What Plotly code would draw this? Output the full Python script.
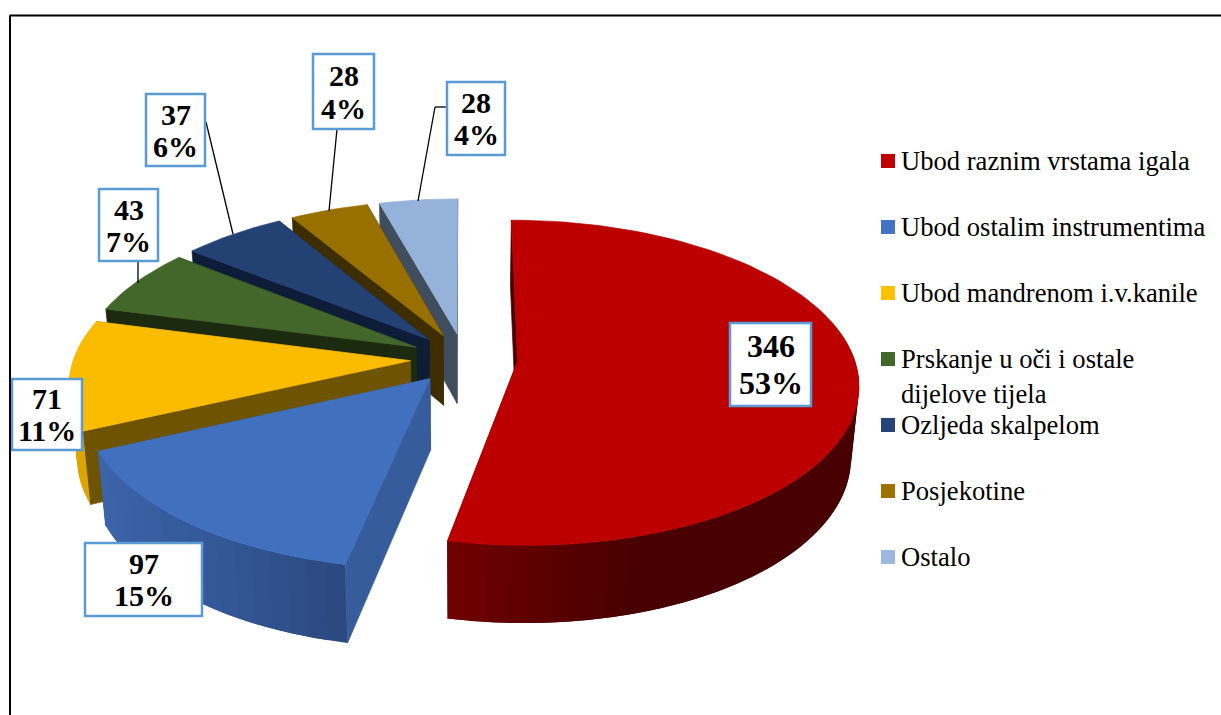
import math
import plotly.graph_objects as go

# ---- data ----
categories = ["Ubod raznim vrstama igala", "Ubod ostalim instrumentima", "Ubod mandrenom i.v.kanile",
              "Prskanje u oči i ostale<br>dijelove tijela", "Ozljeda skalpelom", "Posjekotine", "Ostalo"]
values = [346, 97, 71, 43, 37, 28, 28]
percents = ["53%", "15%", "11%", "7%", "6%", "4%", "4%"]

# ---- styles ----
legend_colors = ["#C00000", "#4472C4", "#FFC000", "#43682B", "#264478", "#9E7000", "#9DB8DE"]
top_colors = ["#BC0000", "#4170BE", "#FBBC00", "#43662A", "#244174", "#987000", "#95B3DA"]
cut_colors = ["#4A0000", "#375C9C", "#6E5400", "#1C2A0F", "#0E1C38", "#3E2D00", "#3F4D5C"]
wall_left = [(112, 0, 0), (60, 100, 170), (219, 164, 0), (28, 42, 15), (14, 28, 56), (62, 45, 0), (63, 77, 92)]
wall_right = [(72, 0, 0), (43, 73, 128), (219, 164, 0), (28, 42, 15), (14, 28, 56), (62, 45, 0), (63, 77, 92)]
FONT = "Liberation Serif"

# ---- projection of the exploded, tilted pie ----
CX, CY, AX, BY = 464.0, 358.5, 336.5, 159.0
PERSP, EXPLODE, THICK, BOTTOM = 0.133, 0.16, 70.5, 0.98


def project(px, pw, bottom=False):
    s = 1.0 / (1.0 - PERSP * pw)
    x = AX * px * s
    y = BY * pw * s
    if bottom:
        return CX + x * BOTTOM, CY + y * BOTTOM + THICK * s
    return CX + x, CY + y


total = sum(values)
angles = []
acc = 0.0
for v in values:
    a0 = acc / total * 360.0
    acc += v
    angles.append((a0, acc / total * 360.0))


def rim(theta, ex, ew):
    t = math.radians(theta)
    return ex + math.sin(t), ew - math.cos(t)


def arc_angles(a0, a1, step=2.0):
    n = max(2, int(math.ceil((a1 - a0) / step)))
    return [a0 + (a1 - a0) * i / n for i in range(n + 1)]


fig = go.Figure()


def poly(points, color, group, width=0.7):
    xs = [p[0] for p in points] + [points[0][0]]
    ys = [p[1] for p in points] + [points[0][1]]
    fig.add_trace(go.Scatter(x=xs, y=ys, mode="lines", fill="toself", fillcolor=color,
                             line=dict(color=color, width=width), hoverinfo="skip",
                             showlegend=False, legendgroup=group))


draw_order = [6, 5, 4, 3, 2, 0, 1]
for i in draw_order:
    a0, a1 = angles[i]
    mid = math.radians((a0 + a1) / 2)
    ex, ew = EXPLODE * math.sin(mid), -EXPLODE * math.cos(mid)
    group = "g%d" % i
    # cut faces
    for a in (a0, a1):
        rx, rw = rim(a, ex, ew)
        poly([project(ex, ew), project(rx, rw), project(rx, rw, True), project(ex, ew, True)], cut_colors[i], group)
    # outer wall, in overlapping strips for the shading
    ths = arc_angles(a0, a1, 3.0)
    xs_all = [project(*rim(t, ex, ew))[0] for t in ths]
    xmin, xmax = min(xs_all), max(xs_all)
    for k in range(len(ths) - 1):
        t0, t1 = ths[k], ths[k + 1]
        if -math.cos(math.radians((t0 + t1) / 2)) < -0.25:
            continue
        sweep = arc_angles(t0, ths[min(k + 2, len(ths) - 1)], 1.0)
        f = ((project(*rim(t0, ex, ew))[0] + project(*rim(t1, ex, ew))[0]) / 2 - xmin) / max(xmax - xmin, 1)
        if i == 0:
            f = min(1.0, f * 2.2)
        c = tuple(round(l + (r - l) * f) for l, r in zip(wall_left[i], wall_right[i]))
        pts = [project(*rim(t, ex, ew)) for t in sweep] + [project(*rim(t, ex, ew), True) for t in reversed(sweep)]
        poly(pts, "rgb(%d,%d,%d)" % c, group, width=0)
    # top face
    pts = [project(ex, ew)] + [project(*rim(t, ex, ew)) for t in arc_angles(a0, a1)]
    xs = [p[0] for p in pts] + [pts[0][0]]
    ys = [p[1] for p in pts] + [pts[0][1]]
    fig.add_trace(go.Scatter(x=xs, y=ys, mode="lines", fill="toself", fillcolor=top_colors[i],
                             line=dict(color=top_colors[i], width=0.7), hoveron="fills",
                             name=categories[i].replace("<br>", " "), text="%d (%s)" % (values[i], percents[i]),
                             hoverinfo="name+text", showlegend=False, legendgroup=group))

# legend entries: plotly keeps its swatch 20 px from the text, the reference only 13,
# so the legend carries the text and the swatches are drawn next to it as shapes
for i, name in enumerate(categories):
    fig.add_trace(go.Scatter(x=[None], y=[None], mode="markers", name=name,
                             marker=dict(symbol="square", size=14, color="rgba(0,0,0,0)"),
                             legendgroup="g%d" % i, showlegend=True,
                             legend="legend" if i < 4 else "legend2"))

# ---- label boxes: x0, y0, x1, y1, font size, line gap ----
boxes = [(730, 323, 811, 406, 32, 37), (85, 543, 202, 616, 30, 32), (12, 379, 82, 450, 30, 32),
         (99, 189, 158, 261, 30, 32), (146, 94, 205, 166, 30, 32), (313, 54, 374, 129, 30, 33),
         (447, 82, 505, 155, 30, 32)]
leaders = [[], [], [], [(138, 261), (138, 283)], [(206, 122), (233, 234)], [(337, 129), (329, 211)],
           [(446, 107), (435, 107), (418, 201)]]
swatch_rows = [161, 227, 293, 359, 425, 491, 557]

shapes = []
annotations = []
for i, (x0, y0, x1, y1, fs, gap) in enumerate(boxes):
    for a, b in zip(leaders[i][:-1], leaders[i][1:]):
        shapes.append(dict(type="line", xref="x", yref="y", x0=a[0], y0=a[1], x1=b[0], y1=b[1],
                           line=dict(color="#000000", width=1.3), layer="above"))
    shapes.append(dict(type="rect", xref="x", yref="y", x0=x0, y0=y0, x1=x1, y1=y1, fillcolor="#FFFFFF",
                       line=dict(color="#5B9BD5", width=2.5), layer="above"))
    xc, yc = (x0 + x1) / 2, (y0 + y1) / 2
    for text, yy in ((str(values[i]), yc - gap / 2), (percents[i], yc + gap / 2)):
        annotations.append(dict(x=xc, y=yy, xref="x", yref="y", text="<b>%s</b>" % text, showarrow=False,
                                xanchor="center", yanchor="middle",
                                font=dict(family=FONT, size=fs, color="#000000")))

for color, row in zip(legend_colors, swatch_rows):
    shapes.append(dict(type="rect", xref="x", yref="y", x0=881, y0=row - 7, x1=895, y1=row + 7,
                       fillcolor=color, line=dict(width=0), layer="above"))

# outer frame of the picture
shapes.append(dict(type="line", xref="x", yref="y", x0=9.5, y0=15.5, x1=1221, y1=15.5,
                   line=dict(color="#000000", width=2), layer="above"))
shapes.append(dict(type="line", xref="x", yref="y", x0=10, y0=15.5, x1=10, y1=715,
                   line=dict(color="#000000", width=2), layer="above"))

legend_style = dict(xref="paper", yref="paper", xanchor="left", yanchor="top", bgcolor="rgba(0,0,0,0)",
                    font=dict(family=FONT, size=26.6, color="#000000"), traceorder="grouped",
                    tracegroupgap=28.5, itemclick="toggle", itemsizing="constant", borderwidth=0)

fig.update_layout(
    width=1221, height=715, margin=dict(l=0, r=0, t=0, b=0),
    paper_bgcolor="#FFFFFF", plot_bgcolor="#FFFFFF",
    xaxis=dict(range=[0, 1221], visible=False, fixedrange=True),
    yaxis=dict(range=[715, 0], visible=False, fixedrange=True),
    shapes=shapes, annotations=annotations,
    legend=dict(x=861 / 1221, y=1 - 136 / 715, **legend_style),
    legend2=dict(x=861 / 1221, y=1 - 400 / 715, **legend_style),
    hovermode="closest",
)

fig.write_html("out.html", config=dict(displayModeBar=False),
               post_script="document.body.style.margin='0';document.documentElement.style.overflow='hidden';")
